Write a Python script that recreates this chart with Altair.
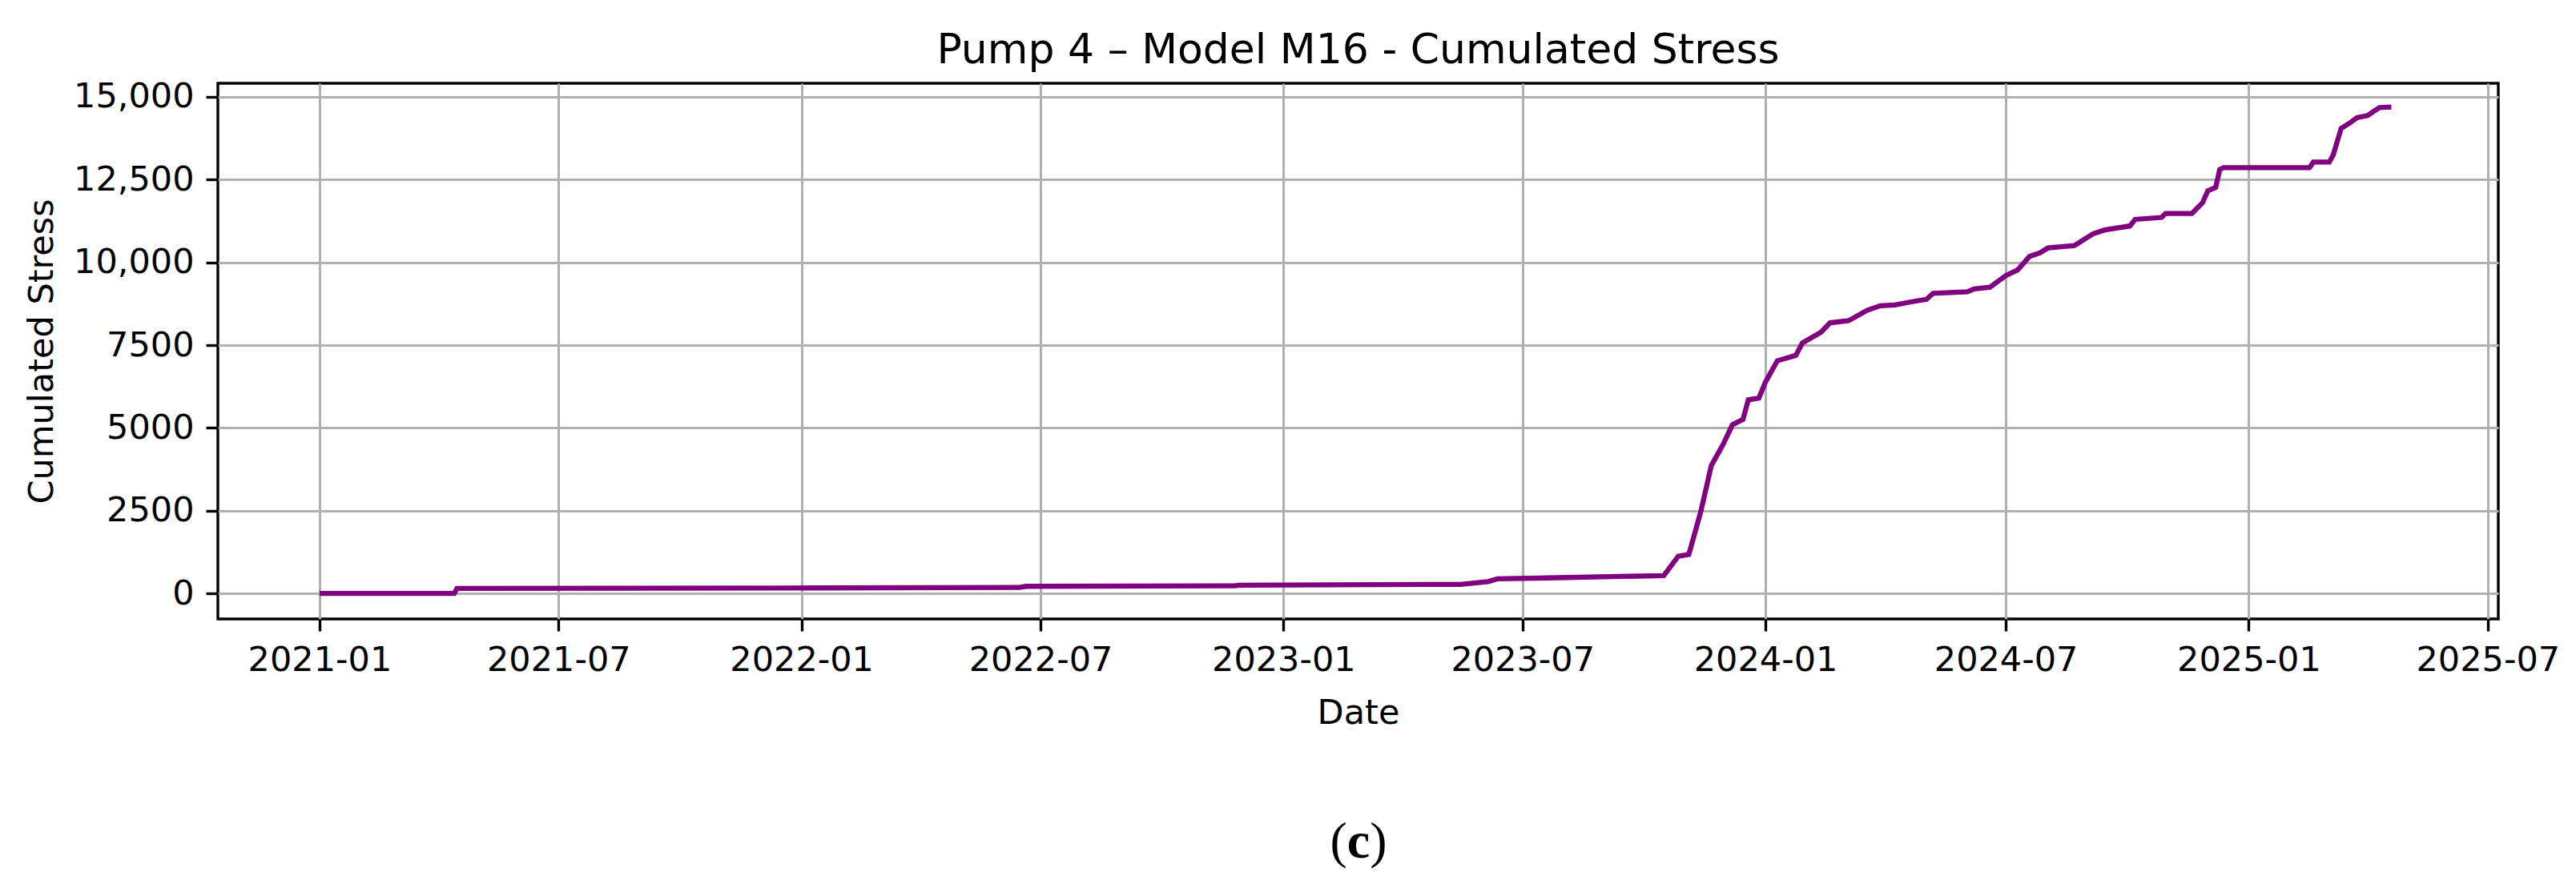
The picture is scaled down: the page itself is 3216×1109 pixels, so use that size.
import altair as alt
import pandas as pd

# ---- data ----
dates = [
    "2021-01-01", "2021-04-13", "2021-04-15", "2021-12-20", "2022-06-15", "2022-06-20",
    "2022-11-25", "2022-11-28", "2023-05-15", "2023-06-05", "2023-06-12", "2023-07-20",
    "2023-10-16", "2023-10-27", "2023-11-04", "2023-11-13", "2023-11-21", "2023-11-30",
    "2023-12-07", "2023-12-15", "2023-12-19", "2023-12-27", "2024-01-01", "2024-01-10",
    "2024-01-24", "2024-01-29", "2024-02-12", "2024-02-19", "2024-03-04", "2024-03-18",
    "2024-03-28", "2024-04-08", "2024-04-22", "2024-05-02", "2024-05-07", "2024-06-02",
    "2024-06-07", "2024-06-19", "2024-07-01", "2024-07-10", "2024-07-19", "2024-07-27",
    "2024-08-02", "2024-08-22", "2024-09-05", "2024-09-14", "2024-10-03", "2024-10-07",
    "2024-10-27", "2024-10-30", "2024-11-19", "2024-11-27", "2024-12-01", "2024-12-07",
    "2024-12-10", "2024-12-13", "2025-02-16", "2025-02-19", "2025-03-03", "2025-03-06",
    "2025-03-12", "2025-03-18", "2025-03-24", "2025-04-01", "2025-04-06", "2025-04-10",
    "2025-04-19",
]
stress = [
    0, 0, 150, 165, 180, 215,
    230, 250, 275, 360, 440, 470,
    540, 1127, 1180, 2468, 3863, 4507,
    5097, 5258, 5848, 5900, 6384, 7028,
    7190, 7565, 7887, 8176, 8240, 8552,
    8691, 8713, 8820, 8884, 9067, 9110,
    9200, 9250, 9600, 9770, 10180, 10290,
    10440, 10510, 10860, 10980, 11100, 11300,
    11358, 11479, 11479, 11800, 12162, 12266,
    12805, 12860, 12860, 13030, 13030, 13247,
    14051, 14196, 14373, 14437, 14574, 14678,
    14694,
]
x_ticks = ["2021-01", "2021-07", "2022-01", "2022-07", "2023-01", "2023-07",
           "2024-01", "2024-07", "2025-01", "2025-07"]
y_ticks = [0, 2500, 5000, 7500, 10000, 12500, 15000]

title_text = "Pump 4 \u2013 Model M16 - Cumulated Stress"
x_label = "Date"
y_label = "Cumulated Stress"

df = pd.DataFrame({"Date": dates, "Stress": stress})

W, H = 2847, 669
FONT = "DejaVu Sans"


def dt(s, day=1):
    y, m = s.split("-")[:2]
    return alt.DateTime(year=int(y), month=int(m), date=day, utc=True)


x_values = [dt(t) for t in x_ticks]

line = alt.Chart(df).mark_line(color="#800080", strokeWidth=6.3).encode(
    x=alt.X(
        "Date:T",
        scale=alt.Scale(
            type="utc",
            domain=[alt.DateTime(year=2020, month=10, date=16, utc=True),
                    alt.DateTime(year=2025, month=7, date=9, utc=True)],
            nice=False,
        ),
        axis=alt.Axis(
            values=x_values,
            labelExpr="utcFormat(datum.value, '%Y-%m')",
            title=x_label,
            titleY=130,
            titleBaseline="alphabetic",
            labelFlush=False,
            labelOverlap=False,
        ),
    ),
    y=alt.Y(
        "Stress:Q",
        scale=alt.Scale(domain=[-770, 15410], nice=False, zero=False),
        axis=alt.Axis(
            values=y_ticks,
            labelExpr="datum.value >= 10000 ? format(datum.value, ',') : format(datum.value, 'd')",
            title=y_label,
            titleX=-207,
            titleY=H / 2,
            titleAngle=270,
            titleAlign="center",
            titleBaseline="alphabetic",
            labelFlush=False,
            labelOverlap=False,
        ),
    ),
)

title_mark = alt.Chart(alt.Data(values=[{"t": title_text}])).mark_text(
    font=FONT, fontSize=52, align="center", baseline="alphabetic", color="black"
).encode(text="t:N", x=alt.value(W / 2), y=alt.value(-25))

cap_font = "Liberation Serif"
cap_y = 967
paren_l = alt.Chart(alt.Data(values=[{"t": "("}])).mark_text(
    font=cap_font, fontSize=64, align="left", baseline="alphabetic", color="black"
).encode(text="t:N", x=alt.value(1388.5), y=alt.value(cap_y))
letter_c = alt.Chart(alt.Data(values=[{"t": "c"}])).mark_text(
    font=cap_font, fontSize=64, fontWeight="bold", align="left", baseline="alphabetic", color="black"
).encode(text="t:N", x=alt.value(1409.8), y=alt.value(cap_y))
paren_r = alt.Chart(alt.Data(values=[{"t": ")"}])).mark_text(
    font=cap_font, fontSize=64, align="left", baseline="alphabetic", color="black"
).encode(text="t:N", x=alt.value(1438.2), y=alt.value(cap_y))

chart = alt.layer(line, title_mark, paren_l, letter_c, paren_r).properties(
    width=W,
    height=H,
    padding={"left": 264, "top": 96, "right": 89, "bottom": 320},
    autosize=alt.AutoSizeParams(type="none"),
    background="white",
).configure_view(
    stroke="black",
    strokeWidth=3.4,
).configure_axis(
    domain=False,
    grid=True,
    gridColor="#b0b0b0",
    gridWidth=3,
    ticks=True,
    tickColor="black",
    tickWidth=3.4,
    tickSize=15,
    labelPadding=15,
    labelFont=FONT,
    labelFontSize=43,
    labelColor="black",
    titleFont=FONT,
    titleFontSize=43,
    titleFontWeight="normal",
    titleColor="black",
)

chart.save("out.html", embed_options={"renderer": "svg", "actions": False})
